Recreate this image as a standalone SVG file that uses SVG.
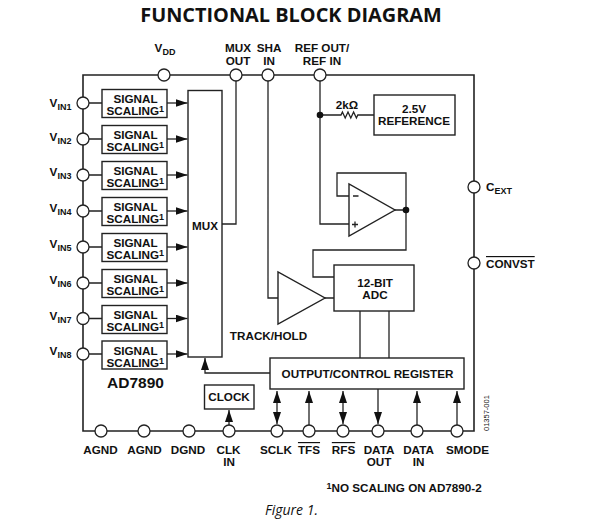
<svg xmlns="http://www.w3.org/2000/svg" width="593" height="522" viewBox="0 0 593 522">
<style>
text{font-family:"Liberation Sans",Arial,sans-serif;font-weight:700;font-size:11.7px;fill:#111;text-anchor:middle}
.s{font-size:9px}
.l{text-anchor:start}
.box{fill:#fff;stroke:#222;stroke-width:1.4}
.pin{fill:#fff;stroke:#222;stroke-width:1.3}
.w{fill:none;stroke:#222;stroke-width:1.3}
.f{fill:none;stroke:#222;stroke-width:1.6}
.ov{text-decoration:overline}
</style>
<defs>
<marker id="a" markerUnits="userSpaceOnUse" markerWidth="14" markerHeight="10" refX="12" refY="4" orient="auto-start-reverse"><path d="M0 0L12 4L0 8z" fill="#111"/></marker>
</defs>
<rect width="593" height="522" fill="#fff"/>
<text x="291" y="22" style="font-family:'Open Sans',sans-serif;font-size:19.9px">FUNCTIONAL BLOCK DIAGRAM</text>
<g id="connectors">
<path class="f" d="M83 75H474V431H83Z"/>
<path class="w" d="M83 103H102M83 139H102M83 175H102M83 211H102M83 247H102M83 283H102M83 318.500H102M83 354H102"/>
<path class="w" marker-end="url(#a)" d="M167 103H187.500"/>
<path class="w" marker-end="url(#a)" d="M167 139H187.500"/>
<path class="w" marker-end="url(#a)" d="M167 175H187.500"/>
<path class="w" marker-end="url(#a)" d="M167 211H187.500"/>
<path class="w" marker-end="url(#a)" d="M167 247H187.500"/>
<path class="w" marker-end="url(#a)" d="M167 283H187.500"/>
<path class="w" marker-end="url(#a)" d="M167 318.500H187.500"/>
<path class="w" marker-end="url(#a)" d="M167 354H187.500"/>
<path class="w" d="M222 224H236V75M268 75V298H278M325 298H334M320 75V224H349M320 115H341l1.400-3 2.800 6 2.800-6 2.800 6 2.800-6 2.800 6 1.400-3H374M349 196H337V173H406V250H313V277H334M395 210H406M360 311V358M389 311V358"/>
<path class="w" marker-end="url(#a)" d="M270 373H205V358"/>
<path class="w" marker-end="url(#a)" d="M229 431V410"/>
<path class="w" marker-start="url(#a)" marker-end="url(#a)" d="M277 391V424"/>
<path class="w" marker-start="url(#a)" marker-end="url(#a)" d="M343 391V424"/>
<path class="w" marker-end="url(#a)" d="M309 425V391"/>
<path class="w" marker-end="url(#a)" d="M417 425V391"/>
<path class="w" marker-end="url(#a)" d="M457 425V391"/>
<path class="w" marker-end="url(#a)" d="M378 389V424"/>
<circle cx="320" cy="115" r="3.300" fill="#111"/>
<circle cx="406" cy="210" r="3.300" fill="#111"/>
</g>
<g id="mux"><rect class="box" x="188" y="90.500" width="34" height="266.500"/><text x="205" y="230">MUX</text></g>
<g id="scale1"><rect class="box" x="102" y="89.500" width="65" height="28"/><text x="135.500" y="103">SIGNAL</text><text class="l" x="106.500" y="115">SCALING<tspan class="s" dy="-3">1</tspan></text></g>
<g id="scale2"><rect class="box" x="102" y="125.500" width="65" height="28"/><text x="135.500" y="139">SIGNAL</text><text class="l" x="106.500" y="151">SCALING<tspan class="s" dy="-3">1</tspan></text></g>
<g id="scale3"><rect class="box" x="102" y="161.500" width="65" height="28"/><text x="135.500" y="175">SIGNAL</text><text class="l" x="106.500" y="187">SCALING<tspan class="s" dy="-3">1</tspan></text></g>
<g id="scale4"><rect class="box" x="102" y="197.500" width="65" height="28"/><text x="135.500" y="211">SIGNAL</text><text class="l" x="106.500" y="223">SCALING<tspan class="s" dy="-3">1</tspan></text></g>
<g id="scale5"><rect class="box" x="102" y="233.500" width="65" height="28"/><text x="135.500" y="247">SIGNAL</text><text class="l" x="106.500" y="259">SCALING<tspan class="s" dy="-3">1</tspan></text></g>
<g id="scale6"><rect class="box" x="102" y="269.500" width="65" height="28"/><text x="135.500" y="283">SIGNAL</text><text class="l" x="106.500" y="295">SCALING<tspan class="s" dy="-3">1</tspan></text></g>
<g id="scale7"><rect class="box" x="102" y="305.500" width="65" height="28"/><text x="135.500" y="319">SIGNAL</text><text class="l" x="106.500" y="331">SCALING<tspan class="s" dy="-3">1</tspan></text></g>
<g id="scale8"><rect class="box" x="102" y="341" width="65" height="28"/><text x="135.500" y="355">SIGNAL</text><text class="l" x="106.500" y="366.500">SCALING<tspan class="s" dy="-3">1</tspan></text></g>
<text id="part" x="135.500" y="388" style="font-size:15.500px">AD7890</text>
<g id="reference"><rect class="box" x="374" y="95" width="81" height="40"/><text x="414" y="112.500">2.5V</text><text x="414" y="124.500">REFERENCE</text></g>
<text x="347" y="109">2kΩ</text>
<g id="opamp"><path class="box" d="M349 184V236L395 210Z"/><path class="w" d="M353 196H358.500M352 224.500H358M355 221.500V227.500"/></g>
<g id="adc"><rect class="box" x="334" y="265" width="80" height="46"/><text x="375" y="287">12-BIT</text><text x="375" y="299">ADC</text></g>
<g id="trackhold"><path class="box" d="M278 272V324L325 298Z"/><text x="268.500" y="340">TRACK/HOLD</text></g>
<g id="register"><rect class="box" x="270" y="358" width="194" height="31"/><text x="367.500" y="378">OUTPUT/CONTROL REGISTER</text></g>
<g id="clock"><rect class="box" x="204.500" y="385" width="49.500" height="24"/><text x="229" y="401">CLOCK</text></g>
<g id="pin-vdd"><circle class="pin" cx="164" cy="75" r="6"/><text x="165" y="52">V<tspan class="s" dy="3">DD</tspan></text></g>
<g id="pin-muxout"><circle class="pin" cx="236" cy="75" r="6"/><text x="238" y="52">MUX</text><text x="238" y="64.500">OUT</text></g>
<g id="pin-shain"><circle class="pin" cx="268" cy="75" r="6"/><text x="269" y="52">SHA</text><text x="269" y="64.500">IN</text></g>
<g id="pin-ref"><circle class="pin" cx="320" cy="75" r="6"/><text x="322" y="52">REF OUT/</text><text x="322" y="64.500">REF IN</text></g>
<g id="pin-vin1"><circle class="pin" cx="83" cy="103" r="6"/><text x="60.500" y="107">V<tspan class="s" dy="3">IN1</tspan></text></g>
<g id="pin-vin2"><circle class="pin" cx="83" cy="139" r="6"/><text x="60.500" y="141">V<tspan class="s" dy="3">IN2</tspan></text></g>
<g id="pin-vin3"><circle class="pin" cx="83" cy="175" r="6"/><text x="60.500" y="176">V<tspan class="s" dy="3">IN3</tspan></text></g>
<g id="pin-vin4"><circle class="pin" cx="83" cy="211" r="6"/><text x="60.500" y="212">V<tspan class="s" dy="3">IN4</tspan></text></g>
<g id="pin-vin5"><circle class="pin" cx="83" cy="247" r="6"/><text x="60.500" y="248">V<tspan class="s" dy="3">IN5</tspan></text></g>
<g id="pin-vin6"><circle class="pin" cx="83" cy="283" r="6"/><text x="60.500" y="283.500">V<tspan class="s" dy="3">IN6</tspan></text></g>
<g id="pin-vin7"><circle class="pin" cx="83" cy="318.500" r="6"/><text x="60.500" y="319.500">V<tspan class="s" dy="3">IN7</tspan></text></g>
<g id="pin-vin8"><circle class="pin" cx="83" cy="354" r="6"/><text x="60.500" y="355">V<tspan class="s" dy="3">IN8</tspan></text></g>
<g id="pin-cext"><circle class="pin" cx="474" cy="187" r="6"/><text class="l" x="486" y="191">C<tspan class="s" dy="3">EXT</tspan></text></g>
<g id="pin-convst"><circle class="pin" cx="474" cy="263" r="6"/><text class="l ov" x="486" y="268">CONVST</text></g>
<g id="pin-agnd1"><circle class="pin" cx="101" cy="431" r="6"/><text x="100.500" y="454">AGND</text></g>
<g id="pin-agnd2"><circle class="pin" cx="144" cy="431" r="6"/><text x="144.500" y="454">AGND</text></g>
<g id="pin-dgnd"><circle class="pin" cx="189" cy="431" r="6"/><text x="188" y="454">DGND</text></g>
<g id="pin-clkin"><circle class="pin" cx="229" cy="431" r="6"/><text x="228.500" y="454">CLK</text><text x="229" y="466">IN</text></g>
<g id="pin-sclk"><circle class="pin" cx="277" cy="431" r="6"/><text x="276" y="454">SCLK</text></g>
<g id="pin-tfs"><circle class="pin" cx="309" cy="431" r="6"/><text class="ov" x="309" y="454">TFS</text></g>
<g id="pin-rfs"><circle class="pin" cx="343" cy="431" r="6"/><text class="ov" x="343.500" y="454">RFS</text></g>
<g id="pin-dataout"><circle class="pin" cx="378" cy="431" r="6"/><text x="379" y="454">DATA</text><text x="379" y="466">OUT</text></g>
<g id="pin-datain"><circle class="pin" cx="417" cy="431" r="6"/><text x="418.500" y="454">DATA</text><text x="418.500" y="466">IN</text></g>
<g id="pin-smode"><circle class="pin" cx="457" cy="431" r="6"/><text x="467.500" y="454">SMODE</text></g>
<text transform="translate(489 431) rotate(-90)" class="l" style="font-size:7.500px;font-weight:400">01357-001</text>
<text class="l" x="326.500" y="492"><tspan class="s" dy="-3">1</tspan><tspan dy="3">NO SCALING ON AD7890-2</tspan></text>
<text x="291.500" y="515" style="font-family:'Open Sans',sans-serif;font-weight:400;font-style:italic;font-size:14px">Figure 1.</text>
</svg>
